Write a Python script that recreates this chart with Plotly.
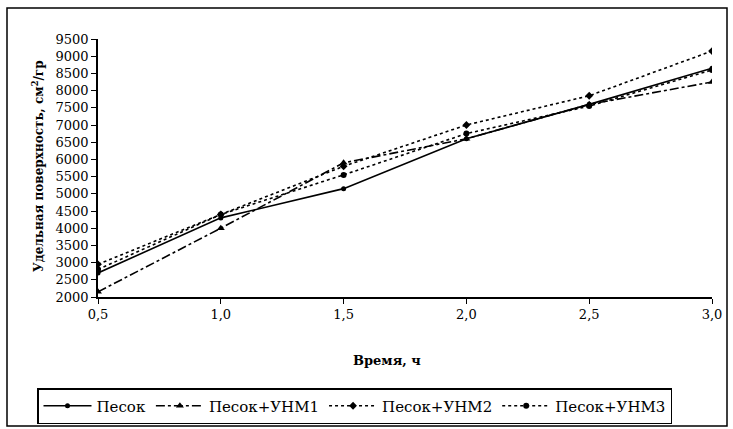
import plotly.graph_objects as go

time_h = [0.5, 1.0, 1.5, 2.0, 2.5, 3.0]
x_tick_labels = ["0,5", "1,0", "1,5", "2,0", "2,5", "3,0"]
y_ticks = list(range(2000, 10000, 500))

pesok = [2700, 4300, 5150, 6600, 7600, 8650]
unm1 = [2150, 4000, 5900, 6600, 7600, 8250]
unm2 = [2950, 4400, 5800, 7000, 7850, 9150]
unm3 = [2800, 4400, 5550, 6750, 7550, 8600]

series = [
    ("Песок", pesok, "solid", "circle", 5),
    ("Песок+УНМ1", unm1, "dashdot", "triangle-up", 7),
    ("Песок+УНМ2", unm2, "dot", "diamond", 6),
    ("Песок+УНМ3", unm3, "dot", "circle", 6),
]

SERIF = "DejaVu Serif"

fig = go.Figure()
for name, vals, dash, sym, ms in series:
    fig.add_trace(go.Scatter(
        x=time_h, y=vals, name=name, mode="lines+markers",
        line=dict(color="black", width=1.6, dash=dash),
        marker=dict(color="black", symbol=sym, size=ms),
    ))

W, H = 733, 429
L, R, T, B = 98, 21, 39, 132
pw, ph = W - L - R, H - T - B

def px(x):
    return (x - L) / pw

def py(y):
    return (H - B - y) / ph

fig.update_layout(
    width=W, height=H,
    margin=dict(l=L, r=R, t=T, b=B, autoexpand=False),
    paper_bgcolor="white", plot_bgcolor="white",
    font=dict(family=SERIF, color="black", size=13),
    showlegend=True,
    legend=dict(
        orientation="h", x=px(37), y=py(388), xanchor="left", yanchor="top",
        bordercolor="black", borderwidth=1.5, font=dict(family=SERIF, size=15),
        bgcolor="white", tracegroupgap=0, itemwidth=48,
    ),
    xaxis=dict(
        range=[0.5, 3.0], tickvals=time_h, ticktext=x_tick_labels,
        showline=True, linecolor="black", linewidth=1.5,
        ticks="outside", ticklen=5, tickcolor="black",
        showgrid=False, zeroline=False, tickfont=dict(family=SERIF, size=13),
    ),
    yaxis=dict(
        range=[2000, 9500], tickvals=y_ticks,
        showline=True, linecolor="black", linewidth=1.5,
        ticks="outside", ticklen=5, tickcolor="black",
        showgrid=False, zeroline=False, tickfont=dict(family=SERIF, size=13),
    ),
    shapes=[dict(
        type="rect", xref="paper", yref="paper",
        x0=px(7), x1=px(727), y0=py(426), y1=py(8),
        line=dict(color="black", width=1.5),
    )],
    annotations=[
        dict(text="<b>Время, ч</b>", xref="paper", yref="paper",
             x=px(387), y=py(360), xanchor="center", yanchor="middle",
             showarrow=False, font=dict(family=SERIF, size=13)),
        dict(text="<b>Удельная поверхность, см<sup>2</sup>/гр</b>", xref="paper", yref="paper",
             x=px(38), y=py(166), xanchor="center", yanchor="middle",
             textangle=-90, showarrow=False, font=dict(family=SERIF, size=12)),
    ],
)

fig.write_html("out.html")
